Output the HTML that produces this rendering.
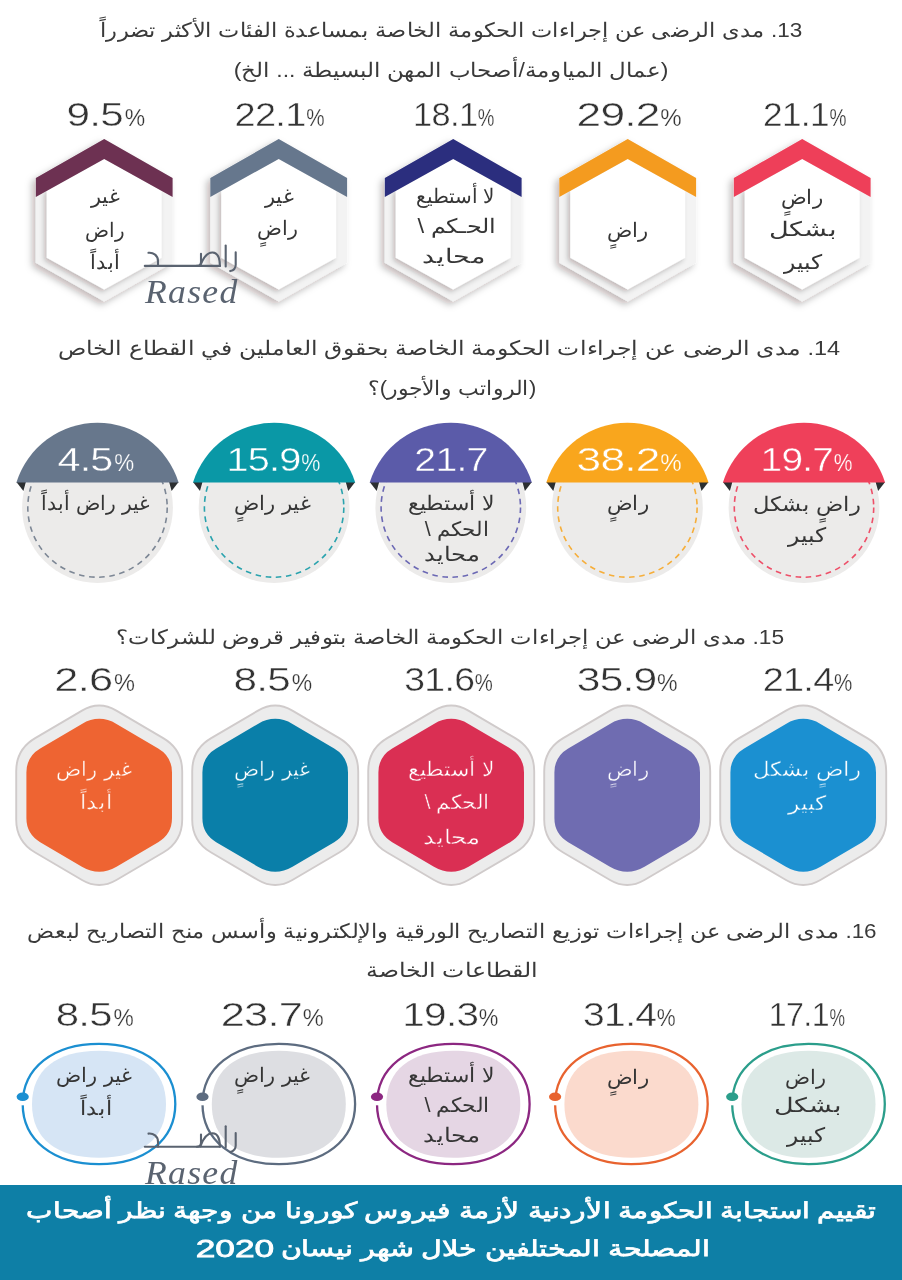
<!DOCTYPE html>
<html lang="ar">
<head>
<meta charset="utf-8">
<title>Rased infographic</title>
<style>
html,body{margin:0;padding:0;background:#fff}
body{width:902px;height:1280px;position:relative;overflow:hidden;font-family:"Liberation Sans",sans-serif;color:#3a3a3a}
#s{position:absolute;left:0;top:0}
.t,.l{position:absolute;height:36px;line-height:36px;text-align:center;direction:rtl;white-space:nowrap}
.t{width:902px;color:#3a3a3a}
.l{width:220px;color:#363636}
.t.b{color:#fff;-webkit-text-stroke:.75px #fff}
.yr{position:absolute;left:135px;top:1230.7px;width:200px;height:36px;line-height:36px;text-align:center;color:#fff;-webkit-text-stroke:.8px #fff;font-size:24px;transform:scaleX(1.47)}
.p{position:absolute;width:220px;height:36px;line-height:36px;text-align:center;white-space:nowrap;color:#333;direction:ltr;letter-spacing:-.6px}
.pc{display:inline-block;margin-left:.04em;transform:scaleX(.78);transform-origin:0 50%}
.rs{position:absolute;font-family:"Liberation Serif",serif;font-style:italic;font-size:33px;line-height:30px;letter-spacing:1.2px;color:#5a6370;transform:scaleX(1.08);transform-origin:0 0}
</style>
</head>
<body>
<svg id="s" width="902" height="1280" viewBox="0 0 902 1280">
<defs>
<filter id="sh1" x="-20%" y="-20%" width="140%" height="140%"><feDropShadow dx="-3.5" dy="3.5" stdDeviation="3.8" flood-color="#1a0f0a" flood-opacity=".27"/></filter>
<filter id="sh2" x="-20%" y="-20%" width="140%" height="140%"><feDropShadow dx="-2.5" dy="2.5" stdDeviation="2.6" flood-color="#1a0f0a" flood-opacity=".24"/></filter>
</defs>
<polygon points="104.2,139 172.6,178 172.6,262.7 104.2,301.6 35.8,262.7 35.8,178" fill="#f3f3f3" filter="url(#sh1)"/>
<polygon points="104.2,158.9 161.6,190.9 161.6,257.7 104.2,289.6 46.8,257.7 46.8,190.9" fill="#fff" filter="url(#sh2)"/>
<polygon points="35.8,178 104.2,139 172.6,178 172.6,197 104.2,158.9 35.8,197" fill="#6d3152"/>
<polygon points="278.7,139 347.1,178 347.1,262.7 278.7,301.6 210.3,262.7 210.3,178" fill="#f3f3f3" filter="url(#sh1)"/>
<polygon points="278.7,158.9 336.1,190.9 336.1,257.7 278.7,289.6 221.3,257.7 221.3,190.9" fill="#fff" filter="url(#sh2)"/>
<polygon points="210.3,178 278.7,139 347.1,178 347.1,197 278.7,158.9 210.3,197" fill="#66778d"/>
<polygon points="453.2,139 521.6,178 521.6,262.7 453.2,301.6 384.8,262.7 384.8,178" fill="#f3f3f3" filter="url(#sh1)"/>
<polygon points="453.2,158.9 510.6,190.9 510.6,257.7 453.2,289.6 395.8,257.7 395.8,190.9" fill="#fff" filter="url(#sh2)"/>
<polygon points="384.8,178 453.2,139 521.6,178 521.6,197 453.2,158.9 384.8,197" fill="#2b2e7e"/>
<polygon points="627.7,139 696.1,178 696.1,262.7 627.7,301.6 559.3,262.7 559.3,178" fill="#f3f3f3" filter="url(#sh1)"/>
<polygon points="627.7,158.9 685.1,190.9 685.1,257.7 627.7,289.6 570.3,257.7 570.3,190.9" fill="#fff" filter="url(#sh2)"/>
<polygon points="559.3,178 627.7,139 696.1,178 696.1,197 627.7,158.9 559.3,197" fill="#f49b1f"/>
<polygon points="802.2,139 870.6,178 870.6,262.7 802.2,301.6 733.8,262.7 733.8,178" fill="#f3f3f3" filter="url(#sh1)"/>
<polygon points="802.2,158.9 859.6,190.9 859.6,257.7 802.2,289.6 744.8,257.7 744.8,190.9" fill="#fff" filter="url(#sh2)"/>
<polygon points="733.8,178 802.2,139 870.6,178 870.6,197 802.2,158.9 733.8,197" fill="#ee3f59"/>
<circle cx="97.5" cy="507.5" r="75.4" fill="#ecebea"/>
<circle cx="97.5" cy="507.5" r="69.7" fill="none" stroke="#7d8795" stroke-width="1.6" stroke-dasharray="5.6 4.6"/>
<polygon points="16.4,482 25.9,482 23.4,491" fill="#2c2f31"/>
<polygon points="178.6,482 169.1,482 171.6,491" fill="#2c2f31"/>
<path d="M16.4 482.4 A85 85 0 0 1 178.6 482.4 Z" fill="#67778c"/>
<circle cx="274.1" cy="507.5" r="75.4" fill="#ecebea"/>
<circle cx="274.1" cy="507.5" r="69.7" fill="none" stroke="#2aa3ae" stroke-width="1.6" stroke-dasharray="5.6 4.6"/>
<polygon points="193,482 202.5,482 200,491" fill="#2c2f31"/>
<polygon points="355.2,482 345.7,482 348.2,491" fill="#2c2f31"/>
<path d="M193 482.4 A85 85 0 0 1 355.2 482.4 Z" fill="#0a98a6"/>
<circle cx="450.8" cy="507.5" r="75.4" fill="#ecebea"/>
<circle cx="450.8" cy="507.5" r="69.7" fill="none" stroke="#6b68b4" stroke-width="1.6" stroke-dasharray="5.6 4.6"/>
<polygon points="369.7,482 379.2,482 376.7,491" fill="#2c2f31"/>
<polygon points="531.9,482 522.4,482 524.9,491" fill="#2c2f31"/>
<path d="M369.7 482.4 A85 85 0 0 1 531.9 482.4 Z" fill="#5b5ba9"/>
<circle cx="627.4" cy="507.5" r="75.4" fill="#ecebea"/>
<circle cx="627.4" cy="507.5" r="69.7" fill="none" stroke="#f6ae3a" stroke-width="1.6" stroke-dasharray="5.6 4.6"/>
<polygon points="546.3,482 555.8,482 553.3,491" fill="#2c2f31"/>
<polygon points="708.5,482 699,482 701.5,491" fill="#2c2f31"/>
<path d="M546.3 482.4 A85 85 0 0 1 708.5 482.4 Z" fill="#f9a61d"/>
<circle cx="804" cy="507.5" r="75.4" fill="#ecebea"/>
<circle cx="804" cy="507.5" r="69.7" fill="none" stroke="#ee4f68" stroke-width="1.6" stroke-dasharray="5.6 4.6"/>
<polygon points="722.9,482 732.4,482 729.9,491" fill="#2c2f31"/>
<polygon points="885.1,482 875.6,482 878.1,491" fill="#2c2f31"/>
<path d="M722.9 482.4 A85 85 0 0 1 885.1 482.4 Z" fill="#ef405a"/>
<path d="M82 710.6Q99.2 700.5 116.4 710.6L163.2 738.1Q182.2 749.2 182.2 771.2L182.2 819.4Q182.2 841.4 163.2 852.5L116.4 880Q99.2 890.1 82 880L35.2 852.5Q16.2 841.4 16.2 819.4L16.2 771.2Q16.2 749.2 35.2 738.1Z" fill="#ececec" stroke="#d0cbcb" stroke-width="1.9"/>
<path d="M81.9 723.9Q99.2 713.8 116.5 723.9L158.2 748.4Q172 756.5 172 772.5L172 818.1Q172 834.1 158.2 842.2L116.5 866.7Q99.2 876.8 81.9 866.7L40.2 842.2Q26.4 834.1 26.4 818.1L26.4 772.5Q26.4 756.5 40.2 748.4Z" fill="#ee6432"/>
<path d="M258 710.6Q275.2 700.5 292.4 710.6L339.2 738.1Q358.2 749.2 358.2 771.2L358.2 819.4Q358.2 841.4 339.2 852.5L292.4 880Q275.2 890.1 258 880L211.2 852.5Q192.2 841.4 192.2 819.4L192.2 771.2Q192.2 749.2 211.2 738.1Z" fill="#ececec" stroke="#d0cbcb" stroke-width="1.9"/>
<path d="M257.9 723.9Q275.2 713.8 292.5 723.9L334.2 748.4Q348 756.5 348 772.5L348 818.1Q348 834.1 334.2 842.2L292.5 866.7Q275.2 876.8 257.9 866.7L216.2 842.2Q202.4 834.1 202.4 818.1L202.4 772.5Q202.4 756.5 216.2 748.4Z" fill="#0a7fa9"/>
<path d="M434 710.6Q451.2 700.5 468.4 710.6L515.2 738.1Q534.2 749.2 534.2 771.2L534.2 819.4Q534.2 841.4 515.2 852.5L468.4 880Q451.2 890.1 434 880L387.2 852.5Q368.2 841.4 368.2 819.4L368.2 771.2Q368.2 749.2 387.2 738.1Z" fill="#ececec" stroke="#d0cbcb" stroke-width="1.9"/>
<path d="M433.9 723.9Q451.2 713.8 468.5 723.9L510.2 748.4Q524 756.5 524 772.5L524 818.1Q524 834.1 510.2 842.2L468.5 866.7Q451.2 876.8 433.9 866.7L392.2 842.2Q378.4 834.1 378.4 818.1L378.4 772.5Q378.4 756.5 392.2 748.4Z" fill="#da2f53"/>
<path d="M610 710.6Q627.2 700.5 644.4 710.6L691.2 738.1Q710.2 749.2 710.2 771.2L710.2 819.4Q710.2 841.4 691.2 852.5L644.4 880Q627.2 890.1 610 880L563.2 852.5Q544.2 841.4 544.2 819.4L544.2 771.2Q544.2 749.2 563.2 738.1Z" fill="#ececec" stroke="#d0cbcb" stroke-width="1.9"/>
<path d="M609.9 723.9Q627.2 713.8 644.5 723.9L686.2 748.4Q700 756.5 700 772.5L700 818.1Q700 834.1 686.2 842.2L644.5 866.7Q627.2 876.8 609.9 866.7L568.2 842.2Q554.4 834.1 554.4 818.1L554.4 772.5Q554.4 756.5 568.2 748.4Z" fill="#6f6cb1"/>
<path d="M786 710.6Q803.2 700.5 820.4 710.6L867.2 738.1Q886.2 749.2 886.2 771.2L886.2 819.4Q886.2 841.4 867.2 852.5L820.4 880Q803.2 890.1 786 880L739.2 852.5Q720.2 841.4 720.2 819.4L720.2 771.2Q720.2 749.2 739.2 738.1Z" fill="#ececec" stroke="#d0cbcb" stroke-width="1.9"/>
<path d="M785.9 723.9Q803.2 713.8 820.5 723.9L862.2 748.4Q876 756.5 876 772.5L876 818.1Q876 834.1 862.2 842.2L820.5 866.7Q803.2 876.8 785.9 866.7L744.2 842.2Q730.4 834.1 730.4 818.1L730.4 772.5Q730.4 756.5 744.2 748.4Z" fill="#1b90d1"/>
<path d="M32 1104.3 C32 1070.1 56.1 1050.8 99 1050.8 C141.9 1050.8 166 1070.1 166 1104.3 C166 1138.5 141.9 1157.8 99 1157.8 C56.1 1157.8 32 1138.5 32 1104.3Z" fill="#d6e5f5"/>
<path d="M22.7 1104 C22.7 1067.9 53.2 1043.8 99 1043.8 C144.8 1043.8 175.3 1067.9 175.3 1104 C175.3 1140.1 144.8 1164.2 99 1164.2 C53.2 1164.2 22.7 1140.1 22.7 1104Z" fill="none" stroke="#1b8fd1" stroke-width="2.3"/>
<rect x="19.7" y="1098" width="6" height="7.3" fill="#fff"/>
<ellipse cx="22.7" cy="1096.8" rx="6.1" ry="4.3" fill="#1b8fd1"/>
<path d="M211.8 1104.3 C211.8 1070.1 235.9 1050.8 278.8 1050.8 C321.7 1050.8 345.8 1070.1 345.8 1104.3 C345.8 1138.5 321.7 1157.8 278.8 1157.8 C235.9 1157.8 211.8 1138.5 211.8 1104.3Z" fill="#dddee2"/>
<path d="M202.5 1104 C202.5 1067.9 233 1043.8 278.8 1043.8 C324.6 1043.8 355.1 1067.9 355.1 1104 C355.1 1140.1 324.6 1164.2 278.8 1164.2 C233 1164.2 202.5 1140.1 202.5 1104Z" fill="none" stroke="#5d6c80" stroke-width="2.3"/>
<rect x="199.5" y="1098" width="6" height="7.3" fill="#fff"/>
<ellipse cx="202.5" cy="1096.8" rx="6.1" ry="4.3" fill="#5d6c80"/>
<path d="M386.3 1104.3 C386.3 1070.1 410.4 1050.8 453.3 1050.8 C496.2 1050.8 520.3 1070.1 520.3 1104.3 C520.3 1138.5 496.2 1157.8 453.3 1157.8 C410.4 1157.8 386.3 1138.5 386.3 1104.3Z" fill="#e5d6e4"/>
<path d="M377 1104 C377 1067.9 407.5 1043.8 453.3 1043.8 C499.1 1043.8 529.6 1067.9 529.6 1104 C529.6 1140.1 499.1 1164.2 453.3 1164.2 C407.5 1164.2 377 1140.1 377 1104Z" fill="none" stroke="#8c2781" stroke-width="2.3"/>
<rect x="374" y="1098" width="6" height="7.3" fill="#fff"/>
<ellipse cx="377" cy="1096.8" rx="6.1" ry="4.3" fill="#8c2781"/>
<path d="M564.4 1104.3 C564.4 1070.1 588.5 1050.8 631.4 1050.8 C674.3 1050.8 698.4 1070.1 698.4 1104.3 C698.4 1138.5 674.3 1157.8 631.4 1157.8 C588.5 1157.8 564.4 1138.5 564.4 1104.3Z" fill="#fbdacd"/>
<path d="M555.1 1104 C555.1 1067.9 585.6 1043.8 631.4 1043.8 C677.2 1043.8 707.7 1067.9 707.7 1104 C707.7 1140.1 677.2 1164.2 631.4 1164.2 C585.6 1164.2 555.1 1140.1 555.1 1104Z" fill="none" stroke="#e8632f" stroke-width="2.3"/>
<rect x="552.1" y="1098" width="6" height="7.3" fill="#fff"/>
<ellipse cx="555.1" cy="1096.8" rx="6.1" ry="4.3" fill="#e8632f"/>
<path d="M741.5 1104.3 C741.5 1070.1 765.6 1050.8 808.5 1050.8 C851.4 1050.8 875.5 1070.1 875.5 1104.3 C875.5 1138.5 851.4 1157.8 808.5 1157.8 C765.6 1157.8 741.5 1138.5 741.5 1104.3Z" fill="#dce9e6"/>
<path d="M732.2 1104 C732.2 1067.9 762.7 1043.8 808.5 1043.8 C854.3 1043.8 884.8 1067.9 884.8 1104 C884.8 1140.1 854.3 1164.2 808.5 1164.2 C762.7 1164.2 732.2 1140.1 732.2 1104Z" fill="none" stroke="#2b9e8b" stroke-width="2.3"/>
<rect x="729.2" y="1098" width="6" height="7.3" fill="#fff"/>
<ellipse cx="732.2" cy="1096.8" rx="6.1" ry="4.3" fill="#2b9e8b"/>
<rect x="0" y="1185" width="902" height="95" fill="#0e7fa6"/>
<g transform="translate(144.8 265.9)" fill="none" stroke="#5a6370" stroke-width="2.1" stroke-linecap="round" stroke-linejoin="round"><path d="M0 0H75.2"/><path d="M80.9 -20.4V0.6"/><path d="M3.7 -13.1C8.5 -13.6 13.2 -10.5 13.2 -5V0"/><path d="M56.2 -12.2V-4C56.2 -1.5 54.5 0 52 0"/><path d="M55.5 -.4C58 -7 62.5 -13.6 67.8 -13.4C73 -13.2 75.1 -7 75.1 0"/><path d="M90.9 -13.7V-1.2C90.9 2.5 88.8 4.4 85.4 5.2"/></g>
<g transform="translate(144.8 1146.7)" fill="none" stroke="#5a6370" stroke-width="2.1" stroke-linecap="round" stroke-linejoin="round"><path d="M0 0H75.2"/><path d="M80.9 -20.4V0.6"/><path d="M3.7 -13.1C8.5 -13.6 13.2 -10.5 13.2 -5V0"/><path d="M56.2 -12.2V-4C56.2 -1.5 54.5 0 52 0"/><path d="M55.5 -.4C58 -7 62.5 -13.6 67.8 -13.4C73 -13.2 75.1 -7 75.1 0"/><path d="M90.9 -13.7V-1.2C90.9 2.5 88.8 4.4 85.4 5.2"/></g>
</svg>
<div class="t" style="left:-0.4px;top:11.6px;font-size:20px;transform:scaleX(1.127);">13. مدى الرضى عن إجراءات الحكومة الخاصة بمساعدة الفئات الأكثر تضرراً</div>
<div class="t" style="left:-0.5px;top:51.9px;font-size:20px;transform:scaleX(1.146);">(عمال المياومة/أصحاب المهن البسيطة ... الخ)</div>
<div class="p" style="left:-2.3px;top:97.1px;font-size:33px;transform:scaleX(1.280);-webkit-text-stroke:0.45px #fff;">9.5<span class="pc" style="font-size:23px;-webkit-text-stroke-width:0.25px">%</span></div>
<div class="l" style="left:-4.7px;top:178.1px;font-size:20px;transform:scaleX(1.036);">غير</div>
<div class="l" style="left:-5.2px;top:211.6px;font-size:20px;transform:scaleX(0.997);">راض</div>
<div class="l" style="left:-4.7px;top:243.8px;font-size:20px;transform:scaleX(1.037);">أبداً</div>
<div class="p" style="left:172.1px;top:97.1px;font-size:33px;transform:scaleX(1.151);-webkit-text-stroke:0.45px #fff;">22.1<span class="pc" style="font-size:23px;-webkit-text-stroke-width:0.25px">%</span></div>
<div class="l" style="left:169.2px;top:177.9px;font-size:20px;transform:scaleX(1.043);">غير</div>
<div class="l" style="left:168.2px;top:210.1px;font-size:20px;transform:scaleX(1.032);">راضٍ</div>
<div class="p" style="left:345.6px;top:97.1px;font-size:33px;transform:scaleX(1.040);-webkit-text-stroke:0.45px #fff;">18.1<span class="pc" style="font-size:23px;-webkit-text-stroke-width:0.25px">%</span></div>
<div class="l" style="left:345.4px;top:178.4px;font-size:20px;transform:scaleX(0.999);">لا أستطيع</div>
<div class="l" style="left:346.9px;top:208.3px;font-size:20px;transform:scaleX(1.195);">الحـكم \</div>
<div class="l" style="left:344.4px;top:238.2px;font-size:20px;transform:scaleX(1.343);">محايد</div>
<div class="p" style="left:521.7px;top:97.1px;font-size:33px;transform:scaleX(1.342);-webkit-text-stroke:0.45px #fff;">29.2<span class="pc" style="font-size:23px;-webkit-text-stroke-width:0.25px">%</span></div>
<div class="l" style="left:517.8px;top:211.6px;font-size:20px;transform:scaleX(1.050);">راضٍ</div>
<div class="p" style="left:696.6px;top:97.1px;font-size:33px;transform:scaleX(1.066);-webkit-text-stroke:0.45px #fff;">21.1<span class="pc" style="font-size:23px;-webkit-text-stroke-width:0.25px">%</span></div>
<div class="l" style="left:692.1px;top:178.9px;font-size:20px;transform:scaleX(1.066);">راضٍ</div>
<div class="l" style="left:693.4px;top:210.5px;font-size:20px;transform:scaleX(1.357);">بشكل</div>
<div class="l" style="left:692.5px;top:244.3px;font-size:20px;transform:scaleX(1.174);">كبير</div>
<div class="t" style="left:-1.6px;top:329.5px;font-size:20px;transform:scaleX(1.173);">14. مدى الرضى عن إجراءات الحكومة الخاصة بحقوق العاملين في القطاع الخاص</div>
<div class="t" style="left:1.2px;top:370.1px;font-size:20px;transform:scaleX(1.095);">(الرواتب والأجور)؟</div>
<div class="p" style="left:-12px;top:441.6px;font-size:33px;transform:scaleX(1.250);color:#fff;-webkit-text-stroke:0.4px #67778c;">4.5<span class="pc" style="font-size:23px;-webkit-text-stroke-width:0.25px">%</span></div>
<div class="l" style="left:-14.7px;top:484.7px;font-size:20px;transform:scaleX(1.012);">غير راض أبداً</div>
<div class="p" style="left:165.8px;top:441.6px;font-size:33px;transform:scaleX(1.200);color:#fff;-webkit-text-stroke:0.4px #0a98a6;">15.9<span class="pc" style="font-size:23px;-webkit-text-stroke-width:0.25px">%</span></div>
<div class="l" style="left:162.4px;top:484.7px;font-size:20px;transform:scaleX(1.051);">غير راضٍ</div>
<div class="p" style="left:341.4px;top:441.6px;font-size:33px;transform:scaleX(1.186);color:#fff;-webkit-text-stroke:0.4px #5b5ba9;">21.7</div>
<div class="l" style="left:341.2px;top:485.3px;font-size:20px;transform:scaleX(1.101);">لا أستطيع</div>
<div class="l" style="left:347.4px;top:510.9px;font-size:20px;transform:scaleX(1.072);">الحكم \</div>
<div class="l" style="left:342.4px;top:536.1px;font-size:20px;transform:scaleX(1.200);">محايد</div>
<div class="p" style="left:521.7px;top:441.6px;font-size:33px;transform:scaleX(1.342);color:#fff;-webkit-text-stroke:0.4px #f9a61d;">38.2<span class="pc" style="font-size:23px;-webkit-text-stroke-width:0.25px">%</span></div>
<div class="l" style="left:518.2px;top:485.3px;font-size:20px;transform:scaleX(1.063);">راضٍ</div>
<div class="p" style="left:698.8px;top:441.6px;font-size:33px;transform:scaleX(1.173);color:#fff;-webkit-text-stroke:0.4px #ef405a;">19.7<span class="pc" style="font-size:23px;-webkit-text-stroke-width:0.25px">%</span></div>
<div class="l" style="left:696.5px;top:485.9px;font-size:20px;transform:scaleX(1.132);">راضٍ بشكل</div>
<div class="l" style="left:696.5px;top:516.6px;font-size:20px;transform:scaleX(1.176);">كبير</div>
<div class="t" style="left:-1px;top:619.1px;font-size:20px;transform:scaleX(1.137);">15. مدى الرضى عن إجراءات الحكومة الخاصة بتوفير قروض للشركات؟</div>
<div class="p" style="left:-13.2px;top:662px;font-size:33px;transform:scaleX(1.315);-webkit-text-stroke:0.45px #fff;">2.6<span class="pc" style="font-size:23px;-webkit-text-stroke-width:0.25px">%</span></div>
<div class="l" style="left:-15.7px;top:750.7px;font-size:20px;transform:scaleX(1.046);color:#fff;-webkit-text-stroke:0.4px #ee6432;">غير راض</div>
<div class="l" style="left:-14px;top:783.5px;font-size:20px;transform:scaleX(1.119);color:#fff;-webkit-text-stroke:0.4px #ee6432;">أبداً</div>
<div class="p" style="left:165.2px;top:662px;font-size:33px;transform:scaleX(1.280);-webkit-text-stroke:0.45px #fff;">8.5<span class="pc" style="font-size:23px;-webkit-text-stroke-width:0.25px">%</span></div>
<div class="l" style="left:162px;top:750.7px;font-size:20px;transform:scaleX(1.041);color:#fff;-webkit-text-stroke:0.4px #0a7fa9;">غير راضٍ</div>
<div class="p" style="left:341.3px;top:662px;font-size:33px;transform:scaleX(1.132);-webkit-text-stroke:0.45px #fff;">31.6<span class="pc" style="font-size:23px;-webkit-text-stroke-width:0.25px">%</span></div>
<div class="l" style="left:341.2px;top:750.7px;font-size:20px;transform:scaleX(1.101);color:#fff;-webkit-text-stroke:0.4px #da2f53;">لا أستطيع</div>
<div class="l" style="left:347px;top:783.5px;font-size:20px;transform:scaleX(1.084);color:#fff;-webkit-text-stroke:0.4px #da2f53;">الحكم \</div>
<div class="l" style="left:342px;top:818.6px;font-size:20px;transform:scaleX(1.218);color:#fff;-webkit-text-stroke:0.4px #da2f53;">محايد</div>
<div class="p" style="left:519.6px;top:662px;font-size:33px;transform:scaleX(1.289);-webkit-text-stroke:0.45px #fff;">35.9<span class="pc" style="font-size:23px;-webkit-text-stroke-width:0.25px">%</span></div>
<div class="l" style="left:518.2px;top:750.7px;font-size:20px;transform:scaleX(1.063);color:#fff;-webkit-text-stroke:0.4px #6f6cb1;">راضٍ</div>
<div class="p" style="left:699.7px;top:662px;font-size:33px;transform:scaleX(1.147);-webkit-text-stroke:0.45px #fff;">21.4<span class="pc" style="font-size:23px;-webkit-text-stroke-width:0.25px">%</span></div>
<div class="l" style="left:697px;top:751.3px;font-size:20px;transform:scaleX(1.139);color:#fff;-webkit-text-stroke:0.4px #1b90d1;">راضٍ بشكل</div>
<div class="l" style="left:697.3px;top:784.6px;font-size:20px;transform:scaleX(1.174);color:#fff;-webkit-text-stroke:0.4px #1b90d1;">كبير</div>
<div class="t" style="left:0.8px;top:913.1px;font-size:20px;transform:scaleX(1.121);">16. مدى الرضى عن إجراءات توزيع التصاريح الورقية والإلكترونية وأسس منح التصاريح لبعض</div>
<div class="t" style="left:1.1px;top:951.9px;font-size:20px;transform:scaleX(1.182);">القطاعات الخاصة</div>
<div class="p" style="left:-12.6px;top:997px;font-size:33px;transform:scaleX(1.271);-webkit-text-stroke:0.45px #fff;">8.5<span class="pc" style="font-size:23px;-webkit-text-stroke-width:0.25px">%</span></div>
<div class="l" style="left:-15.7px;top:1057.1px;font-size:20px;transform:scaleX(1.046);">غير راض</div>
<div class="l" style="left:-14px;top:1089.9px;font-size:20px;transform:scaleX(1.119);">أبداً</div>
<div class="p" style="left:164.6px;top:997px;font-size:33px;transform:scaleX(1.316);-webkit-text-stroke:0.45px #fff;">23.7<span class="pc" style="font-size:23px;-webkit-text-stroke-width:0.25px">%</span></div>
<div class="l" style="left:162px;top:1057.1px;font-size:20px;transform:scaleX(1.041);">غير راضٍ</div>
<div class="p" style="left:342.8px;top:997px;font-size:33px;transform:scaleX(1.227);-webkit-text-stroke:0.45px #fff;">19.3<span class="pc" style="font-size:23px;-webkit-text-stroke-width:0.25px">%</span></div>
<div class="l" style="left:341.2px;top:1057.1px;font-size:20px;transform:scaleX(1.101);">لا أستطيع</div>
<div class="l" style="left:347px;top:1087.3px;font-size:20px;transform:scaleX(1.084);">الحكم \</div>
<div class="l" style="left:342px;top:1117.4px;font-size:20px;transform:scaleX(1.218);">محايد</div>
<div class="p" style="left:522.4px;top:997px;font-size:33px;transform:scaleX(1.184);-webkit-text-stroke:0.45px #fff;">31.4<span class="pc" style="font-size:23px;-webkit-text-stroke-width:0.25px">%</span></div>
<div class="l" style="left:518.2px;top:1059.1px;font-size:20px;transform:scaleX(1.063);">راضٍ</div>
<div class="p" style="left:699px;top:997px;font-size:33px;transform:scaleX(0.973);-webkit-text-stroke:0.45px #fff;">17.1<span class="pc" style="font-size:23px;-webkit-text-stroke-width:0.25px">%</span></div>
<div class="l" style="left:696.4px;top:1058.5px;font-size:20px;transform:scaleX(1.039);">راض</div>
<div class="l" style="left:698.2px;top:1087.2px;font-size:20px;transform:scaleX(1.353);">بشكل</div>
<div class="l" style="left:696.2px;top:1116.7px;font-size:20px;transform:scaleX(1.171);">كبير</div>
<div class="t b" style="left:-0.1px;top:1193.3px;font-size:22px;transform:scaleX(1.273);">تقييم استجابة الحكومة الأردنية لأزمة فيروس كورونا من وجهة نظر أصحاب</div>
<div class="t b" style="left:43.5px;top:1231.3px;font-size:22px;transform:scaleX(1.298);">المصلحة المختلفين خلال شهر نيسان</div>
<div class="yr">2020</div>
<div class="rs" style="left:145px;top:276.9px">Rased</div>
<div class="rs" style="left:145px;top:1157.7px">Rased</div>
</body>
</html>
